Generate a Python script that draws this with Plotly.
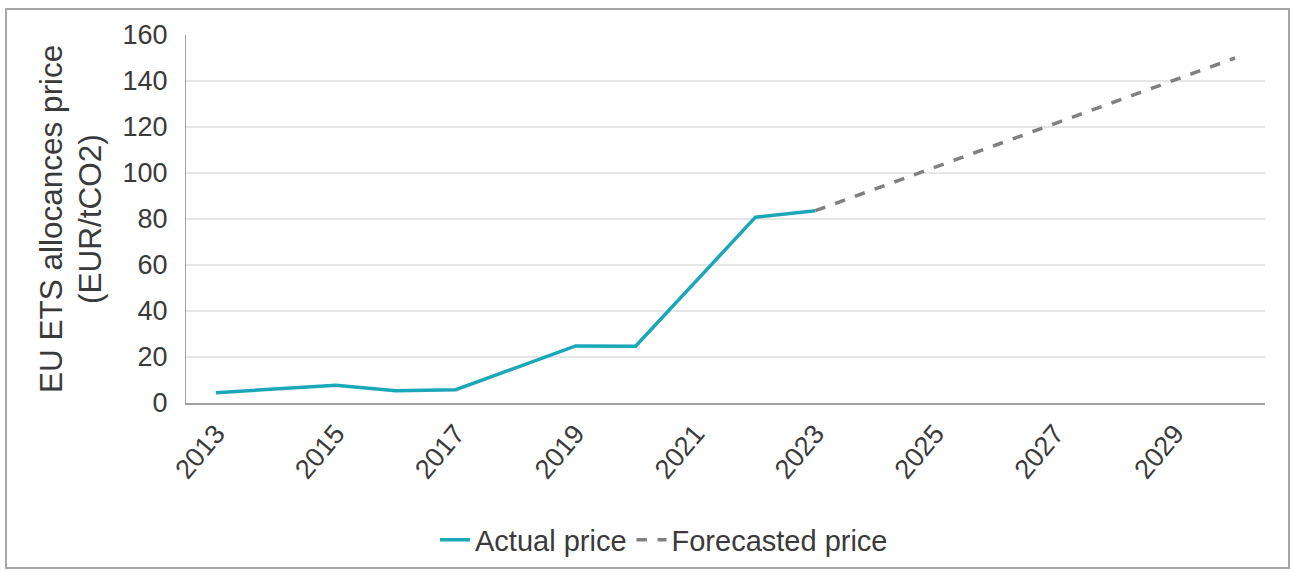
import plotly.graph_objects as go

years_actual = ["2013", "2014", "2015", "2016", "2017", "2018", "2019", "2020", "2021", "2022", "2023"]
price_actual = [4.5, 6.1, 7.7, 5.3, 5.8, 15.3, 24.8, 24.7, 52.8, 80.8, 83.6]

years_forecast = ["2023", "2024", "2025", "2026", "2027", "2028", "2029", "2030"]
price_forecast = [83.6, 93.1, 102.6, 112.1, 121.6, 131.1, 140.6, 150.0]

all_years = [str(y) for y in range(2013, 2031)]
tick_years = ["2013", "2015", "2017", "2019", "2021", "2023", "2025", "2027", "2029"]
y_ticks = [0, 20, 40, 60, 80, 100, 120, 140, 160]

FONT = "Liberation Sans, Arial, sans-serif"
TXT = "#3A3A3A"

fig = go.Figure()
fig.add_trace(go.Scatter(
    x=years_actual, y=price_actual, mode="lines", name="Actual price",
    line=dict(color="#1AA7B7", width=3.5)))
fig.add_trace(go.Scatter(
    x=years_forecast, y=price_forecast, mode="lines", name="Forecasted price",
    line=dict(color="#808080", width=3.5, dash="dash")))

L, R, T, B = 186, 1265, 35, 403
W, H = 1292, 571
pw, ph = R - L, B - T


def px(x):
    return (x - L) / pw


def py(y):
    return (B - y) / ph


fig.update_layout(
    width=W, height=H,
    margin=dict(l=L, r=W - R, t=T, b=H - B, pad=0, autoexpand=False),
    paper_bgcolor="white", plot_bgcolor="white",
    font=dict(family=FONT, size=28, color=TXT),
    showlegend=True,
    legend=dict(orientation="h", x=px(664), y=py(540), xanchor="center", yanchor="middle",
                font=dict(size=29, color=TXT), itemwidth=30, tracegroupgap=0,
                bgcolor="rgba(0,0,0,0)"),
    xaxis=dict(type="category", categoryorder="array", categoryarray=all_years,
               range=[-0.5, 17.5], tickmode="array", tickvals=tick_years, ticktext=tick_years,
               tickangle=-50, showgrid=False, zeroline=False, showline=True, automargin=False,
               linecolor="#A0A0A0", linewidth=2, ticks="", ticklabelstandoff=2,
               tickfont=dict(size=27, color=TXT)),
    yaxis=dict(range=[0, 160], tickmode="array", tickvals=y_ticks, showgrid=True, automargin=False,
               gridcolor="#E6E6E6", gridwidth=1.5, zeroline=False, showline=True,
               linecolor="#A0A0A0", linewidth=1, ticks="", ticklabelstandoff=12,
               tickfont=dict(size=27, color=TXT)),
    shapes=[dict(type="rect", xref="paper", yref="paper",
                 x0=px(6), x1=px(1289), y0=py(568), y1=py(9),
                 line=dict(color="#A6A6A6", width=2), fillcolor="rgba(0,0,0,0)", layer="below")],
    annotations=[
        dict(text="EU ETS allocances price", xref="paper", yref="paper", x=px(51), y=py(219),
             xanchor="center", yanchor="middle", textangle=-90, showarrow=False,
             font=dict(size=31.5, color=TXT)),
        dict(text="(EUR/tCO2)", xref="paper", yref="paper", x=px(90), y=py(219),
             xanchor="center", yanchor="middle", textangle=-90, showarrow=False,
             font=dict(size=31.5, color=TXT)),
    ],
)

fig.write_html("out.html")
